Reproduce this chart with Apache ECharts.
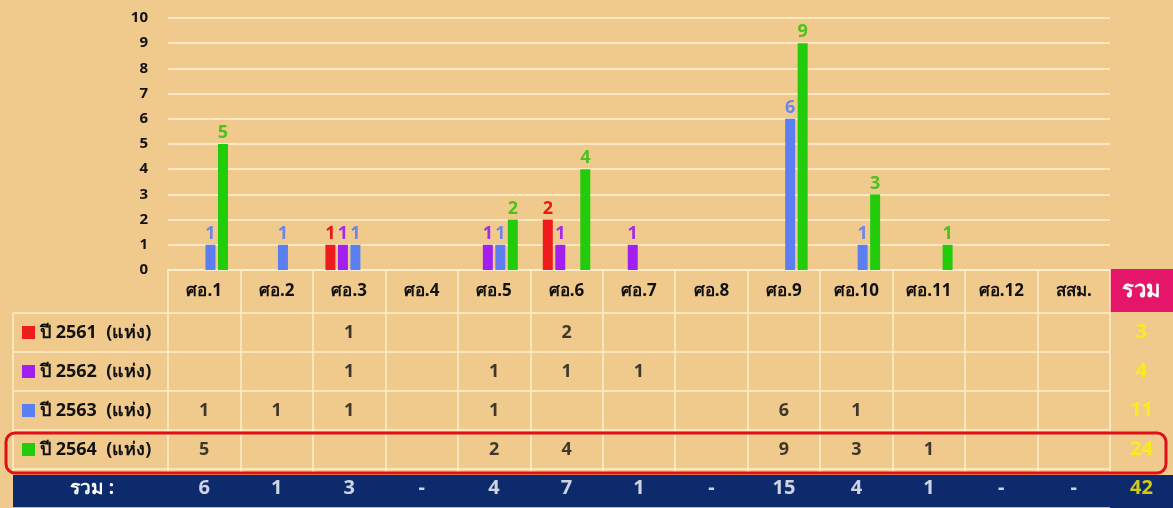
<!DOCTYPE html>
<html>
<head>
<meta charset="utf-8">
<script src="https://cdn.jsdelivr.net/npm/echarts@6/dist/echarts.min.js"></script>
<style>
  html, body { margin: 0; padding: 0; background: #f0ca8d; }
  #chart { width: 1173px; height: 508px; }
</style>
</head>
<body>
<div id="chart"></div>
<script>
// ข้อมูล
const categories = ['ศอ.1', 'ศอ.2', 'ศอ.3', 'ศอ.4', 'ศอ.5', 'ศอ.6', 'ศอ.7', 'ศอ.8', 'ศอ.9', 'ศอ.10', 'ศอ.11', 'ศอ.12', 'สสม.'];
const rowNames = ['ปี 2561  (แห่ง)', 'ปี 2562  (แห่ง)', 'ปี 2563  (แห่ง)', 'ปี 2564  (แห่ง)'];
const y2561 = [null, null, 1, null, null, 2, null, null, null, null, null, null, null];
const y2562 = [null, null, 1, null, 1, 1, 1, null, null, null, null, null, null];
const y2563 = [1, 1, 1, null, 1, null, null, null, 6, 1, null, null, null];
const y2564 = [5, null, null, null, 2, 4, null, null, 9, 3, 1, null, null];
const totalLabel = 'รวม';
const yMax = 10;

const colors = ['#ee1c1c', '#a31ff0', '#5b7ff0', '#22cc0a'];
const labelColors = ['#e81818', '#a52ae8', '#6f86e6', '#4cc21c'];
const rows = [y2561, y2562, y2563, y2564];

// ผลรวม
const colTotals = categories.map((c, i) => rows.reduce((s, r) => s + (r[i] || 0), 0));
const rowTotals = rows.map(r => r.reduce((s, v) => s + (v || 0), 0));
const grandTotal = rowTotals.reduce((s, v) => s + v, 0);

const font = "'Noto Sans', 'DejaVu Sans', sans-serif";
const lineCol = '#fcedcc';

// ข้อความในตาราง
const cellData = [];
rows.forEach((r, ri) => {
  r.forEach((v, ci) => {
    if (v != null) cellData.push([ci, ri, String(v)]);
  });
});
const totalData = colTotals.map((v, ci) => [ci, 4, v ? String(v) : '-']);
const sideData = rowTotals.map((v, ri) => [0, ri, String(v)]);
sideData.push([0, 4, String(grandTotal)]);

const tableRows = ['2561', '2562', '2563', '2564', 'total'];

const rich = {
  t: { fontSize: 18, fontWeight: 'bold', color: '#111111', fontFamily: font, padding: [0, 0, 0, 5] },
  tot: { width: 140, align: 'center', fontSize: 19, fontWeight: 'bold', color: '#ffffff', fontFamily: font }
};
colors.forEach((c, i) => {
  rich['sq' + i] = { width: 13, height: 13, backgroundColor: c };
});

const barSeries = rows.map((r, i) => ({
  name: rowNames[i],
  type: 'bar',
  data: r,
  barWidth: 10,
  barGap: '25%',
  itemStyle: { color: colors[i] },
  label: {
    show: true,
    position: 'top',
    distance: 2,
    color: labelColors[i],
    fontSize: 18,
    fontWeight: 'bold',
    fontFamily: font
  }
}));

const chart = echarts.init(document.getElementById('chart'));
const option = {
  backgroundColor: '#f0ca8d',
  animation: false,
  grid: [
    { left: 168, right: 63, top: 18, bottom: 238 },
    { left: 168, right: 63, top: 313, bottom: -5 },
    { left: 1110, right: 0, top: 313, bottom: -5 }
  ],
  xAxis: [
    {
      type: 'category',
      gridIndex: 0,
      data: categories,
      axisLine: { lineStyle: { color: lineCol, width: 2 } },
      axisTick: { show: true, length: 203, lineStyle: { color: lineCol, width: 1.5 } },
      axisLabel: { color: '#111111', fontSize: 17, fontWeight: 'bold', fontFamily: font, margin: 13, interval: 0 }
    },
    { type: 'category', gridIndex: 1, data: categories, show: false },
    { type: 'category', gridIndex: 2, data: [totalLabel], show: false }
  ],
  yAxis: [
    {
      type: 'value',
      gridIndex: 0,
      min: 0,
      max: yMax,
      interval: 1,
      axisLine: { show: false },
      axisTick: { show: false },
      axisLabel: { color: '#111111', fontSize: 15, fontWeight: 'bold', fontFamily: font, margin: 20 },
      splitLine: { lineStyle: { color: '#fbe7c0', width: 2 } }
    },
    {
      type: 'category',
      gridIndex: 1,
      data: tableRows,
      inverse: true,
      axisLine: { show: false },
      axisTick: { show: true, length: 155, lineStyle: { color: lineCol, width: 1.5 } },
      splitLine: { show: true, lineStyle: { color: lineCol, width: 1.5 } },
      axisLabel: {
        align: 'left',
        margin: 146,
        formatter: (v, idx) => idx < 4 ? '{sq' + idx + '| }{t|' + rowNames[idx] + '}' : '{tot|' + totalLabel + ' :}',
        rich: rich
      }
    },
    { type: 'category', gridIndex: 2, data: tableRows, inverse: true, show: false }
  ],
  series: barSeries.concat([
    {
      type: 'scatter',
      xAxisIndex: 1,
      yAxisIndex: 1,
      data: cellData,
      symbolSize: 1,
      itemStyle: { color: 'transparent' },
      label: { show: true, position: 'inside', formatter: p => p.value[2], color: '#111111', fontSize: 18, fontWeight: 'bold', fontFamily: font },
      z: 5
    },
    {
      type: 'scatter',
      xAxisIndex: 1,
      yAxisIndex: 1,
      data: totalData,
      symbolSize: 1,
      itemStyle: { color: 'transparent' },
      label: { show: true, position: 'inside', formatter: p => p.value[2], color: '#ffffff', fontSize: 20, fontWeight: 'bold', fontFamily: font },
      z: 5
    },
    {
      type: 'scatter',
      xAxisIndex: 2,
      yAxisIndex: 2,
      data: sideData,
      symbolSize: 1,
      itemStyle: { color: 'transparent' },
      label: { show: true, position: 'inside', formatter: p => p.value[2], color: '#fff200', fontSize: 20, fontWeight: 'bold', fontFamily: font },
      z: 5
    }
  ]),
  graphic: [
    { type: 'rect', z: -1, shape: { x: 13, y: 475, width: 1160, height: 33 }, style: { fill: '#0c2a6c' } },
    { type: 'line', shape: { x1: 13, y1: 313, x2: 13, y2: 473 }, style: { stroke: lineCol, lineWidth: 1.5 } },
    { type: 'rect', shape: { x: 1110, y: 269, width: 63, height: 43 }, style: { fill: '#e5166a' } },
    {
      type: 'text', x: 1141, y: 291,
      style: { text: totalLabel, fill: '#ffffff', fontSize: 22, fontWeight: 'bold', fontFamily: font, align: 'center', verticalAlign: 'middle' }
    },
    {
      type: 'rect', z: 10,
      shape: { x: 6, y: 433, width: 1160, height: 40, r: 9 },
      style: { fill: 'none', stroke: '#e01018', lineWidth: 3 }
    }
  ]
};
chart.setOption(option);
</script>
</body>
</html>
